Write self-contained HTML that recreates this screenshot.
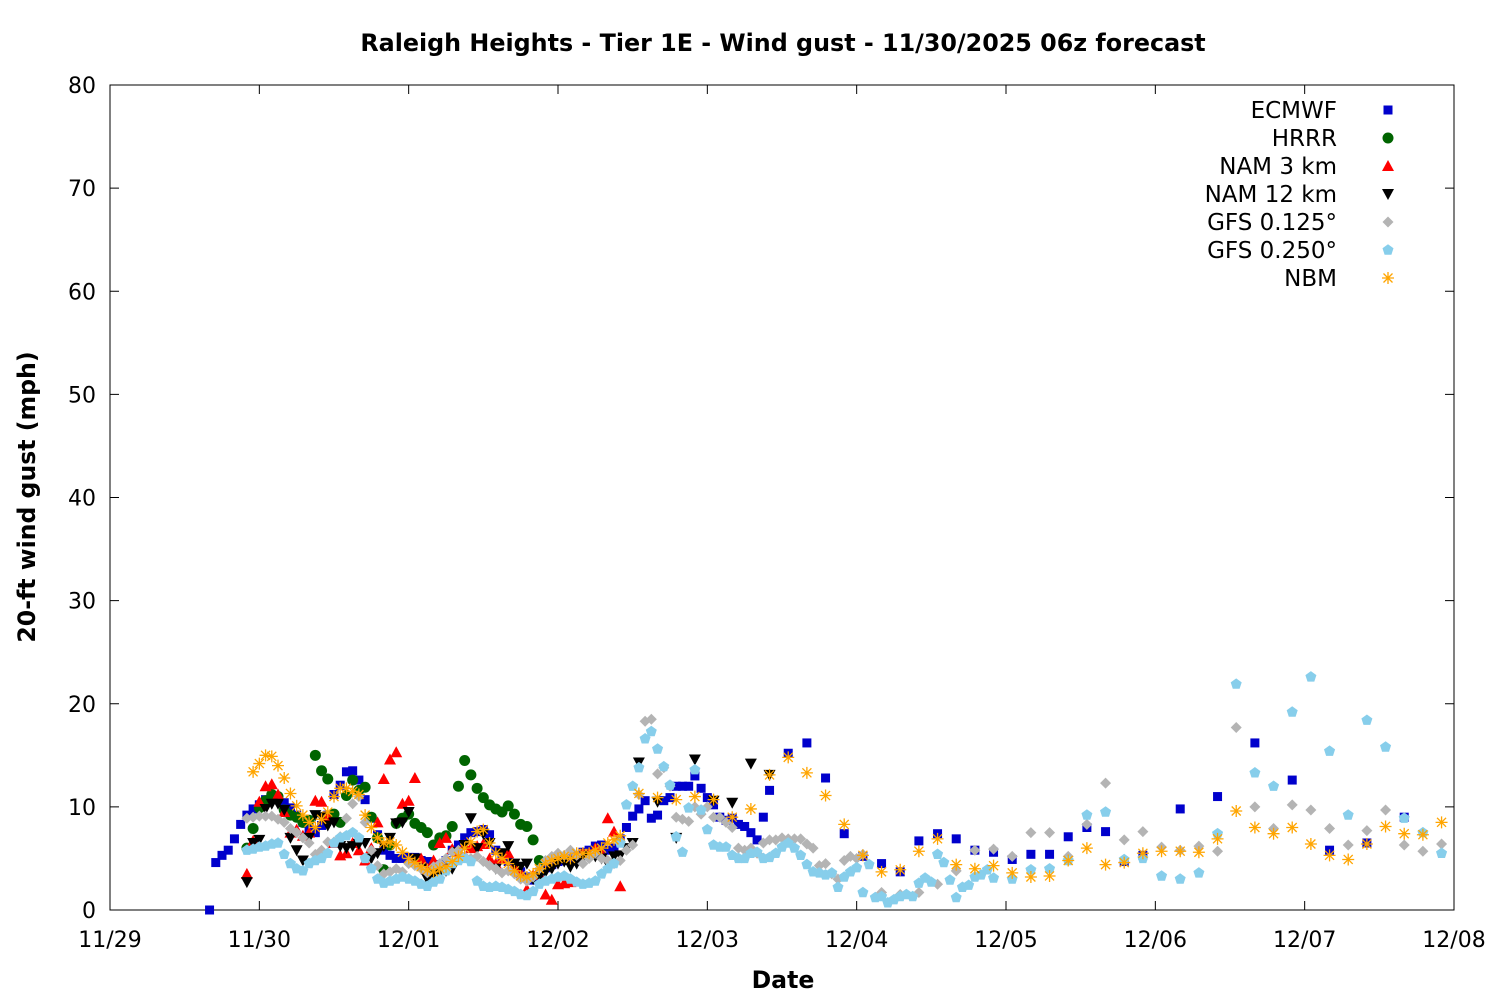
<!DOCTYPE html>
<html><head><meta charset="utf-8"><style>
html,body{margin:0;padding:0;background:#fff;}
svg{display:block;font-family:"DejaVu Sans","Liberation Sans",sans-serif;}
</style></head><body>
<svg id="chart" width="1500" height="1000" viewBox="0 0 1500 1000" xmlns="http://www.w3.org/2000/svg">
<rect width="1500" height="1000" fill="#fff"/>
<text x="783" y="51" text-anchor="middle" font-size="23.8" font-weight="bold">Raleigh Heights - Tier 1E - Wind gust - 11/30/2025 06z forecast</text>
<text transform="translate(35,497) rotate(-90)" text-anchor="middle" font-size="23.6" font-weight="bold">20-ft wind gust (mph)</text>
<text x="783" y="988" text-anchor="middle" font-size="23.6" font-weight="bold">Date</text>
<g id="axes"></g><g id="marks"></g><g id="legend"></g>
</svg>
<script>
const xTickLabels=["11/29","11/30","12/01","12/02","12/03","12/04","12/05","12/06","12/07","12/08"];
const yTickValues=[0,10,20,30,40,50,60,70,80];
const seriesNames=["ECMWF","HRRR","NAM 3 km","NAM 12 km","GFS 0.125°","GFS 0.250°","NBM"];
// values (mph); hours from 11/29 00z
const ecmwfHourly=[0,4.6,5.3,5.8,6.9,8.3,9.2,9.8,10.2,10.7,10.9,10.7,10.4,9.9,9.2,8.5,7.9,7.5,8.2,9.2,11.2,12.1,13.4,13.5,12.6,10.7,8.9,7.3,5.8,5.3,5.0,5.0,5.1,5.1,4.8,4.7,4.4,4.1,4.8,5.8,6.3,7.0,7.5,7.6,7.8,7.3,5.8,5.0,4.7,4.1,3.7,3.2,2.9,3.4,4.1,4.4,4.7,4.8,5.0,5.3,5.6,5.8,6.2,6.3,5.8,6.0,6.9,8.0,9.1,9.8,10.6,8.9,9.2,10.6,10.9,12.0,12.0,12.0,13.0,11.8,10.9,10.2,9.0,8.7,8.9,8.3,8.1,7.5,6.8,9.0,11.6];
const ecmwf3h=[15.2,16.2,12.8,7.4,5.2,4.5,3.7,6.7,7.4,6.9,5.8,5.6,4.9,5.4,5.4,7.1,8.0,7.6,4.7,5.3];
const ecmwf6h=[9.8,11.0,16.2,12.6,5.8,6.5,9.0];
const hrrr=[6.0,7.9,9.9,10.6,11.2,11.0,9.7,9.2,9.0,8.5,8.7,15.0,13.5,12.7,9.3,8.5,11.1,12.6,11.6,11.9,9.0,7.0,3.9,6.3,8.4,8.9,9.3,8.4,8.0,7.5,6.3,7.0,7.2,8.1,12.0,14.5,13.1,11.8,10.9,10.2,9.8,9.5,10.1,9.3,8.3,8.1,6.8,4.8];
const nam3=[3.5,6.7,10.5,12.0,12.2,11.2,9.5,7.5,7.8,7.2,7.5,10.6,10.5,9.0,6.5,5.3,5.5,6.5,5.8,4.8,6.0,8.5,12.7,14.6,15.3,10.3,10.6,12.8,5.0,4.0,4.8,6.5,7.0,5.9,5.6,6.3,6.0,6.2,6.4,5.0,4.5,5.0,5.5,4.3,3.6,2.0,3.4,3.5,1.5,1.0,2.5,2.6,2.7,4.8,5.5,5.5,6.0,5.5,8.9,7.6,2.3];
const nam12Hourly=[2.7,6.5,6.8,9.8,10.3,10.3,9.7,7.0,5.8,4.8,7.0,9.2,9.0,8.2,8.5,6.2,6.0,6.2,6.4,6.5,5.0,5.5,6.2,7.0,8.4,8.5,9.5,5.0,4.0,3.0,3.5,3.6,3.8,4.0,5.6,6.3,8.9,6.0,7.4,6.5,4.0,5.5,6.2,4.5,4.2,4.5,3.0,3.2,3.7,4.0,4.5,4.7,4.2,4.5,5.0,5.2,5.2,5.0,4.5,5.2,5.3,6.0,6.5];
const nam12_3h=[14.3,10.5,7.0,14.6,10.6,10.4,14.2,13.1];
const gfs125Hourly=[8.9,9.0,9.1,9.1,9.1,8.8,8.5,7.9,7.5,7.0,6.5,5.4,5.8,6.6,6.6,7.1,8.9,10.3,11.0,8.5,5.8,4.3,3.5,3.7,4.0,3.7,4.5,4.3,4.0,3.6,4.2,4.5,5.0,5.6,5.8,5.2,5.0,5.2,4.7,4.3,4.0,3.6,3.8,3.5,3.0,2.8,3.2,4.0,4.8,5.2,5.5,5.3,5.8,5.3,4.5,5.0,5.5,5.0,4.8,4.5,4.8,5.8,6.3,11.2,18.3,18.5,13.2,13.8,12.0,9.0,8.8,8.6,10.0,9.3,10.0,9.0,9.0,8.5,8.0,6.0,5.8,6.0,5.5,6.5,6.8,6.8,7.0,6.9,6.9,6.9,6.4,6.0,4.3,4.5,3.5,3.0,4.8,5.2,5.0];
const gfs125_3h=[5.4,1.7,1.5,1.7,2.5,3.8,5.8,5.9,5.2,7.5,7.5,5.2,8.3,12.3,6.8,7.6,6.1,5.8,6.2,5.7,17.7,10.0,7.9,10.2,9.7,7.9,6.3,7.7,9.7,6.3,5.7,6.4];
const gfs250Hourly=[5.8,5.9,6.1,6.2,6.4,6.5,5.4,4.5,4.0,3.8,4.5,4.8,5.0,5.5,6.5,7.0,7.2,7.5,7.0,5.0,4.0,3.0,2.6,2.8,3.0,3.2,3.0,2.8,2.5,2.3,2.7,3.0,3.8,4.5,4.8,5.0,4.7,2.8,2.3,2.2,2.3,2.2,2.0,1.8,1.5,1.4,1.8,2.5,2.8,3.0,3.2,3.3,3.0,2.7,2.5,2.6,2.8,3.5,4.0,4.5,6.5,10.2,12.0,13.8,16.6,17.3,15.6,13.9,12.1,7.1,5.6,9.9,13.6,9.7,7.8,6.3,6.1,6.1,5.3,5.0,5.0,5.5,5.6,5.0,5.1,5.5,6.1,6.5,6.0,5.3,4.4,3.7,3.6,3.4,3.6,2.2,3.2,3.7,4.1,1.7,4.4,1.2,1.3,0.7,1.0,1.3,1.5,1.3,2.6,3.1,2.7,5.4,4.6,2.9,1.2,2.2,2.4,3.2,3.4,3.9,3.1];
const gfs250_3h=[3.0,3.9,4.0,4.8,9.2,9.5,4.9,5.0,3.3,3.0,3.6,7.4,21.9,13.3,12.0,19.2,22.6,15.4,9.2,18.4,15.8,8.9,7.5,5.5];
const nbmHourly=[13.4,14.2,15.0,14.9,14.0,12.8,11.3,10.1,9.2,8.5,8.0,8.8,9.5,11.0,11.8,11.8,11.5,11.2,9.2,8.0,7.0,6.5,6.6,6.3,5.6,5.0,4.6,4.2,3.9,3.7,4.0,4.2,4.7,5.2,6.0,6.6,7.6,7.8,6.5,5.5,5.0,4.5,3.8,3.3,3.2,3.5,4.0,4.5,4.8,5.0,5.2,5.0,5.5,5.5,5.5,5.8,6.0,6.5,6.8,7.2];
const nbm3h=[11.3,10.9,10.7,11.0,10.7,9.0,9.8,13.1,14.8,13.3,11.1,8.3,5.3,3.7,3.9,5.7,6.9,4.4,4.0,4.3,3.6,3.2,3.3,4.8,6.0,4.4,4.6,5.5,5.7,5.7,5.6,6.9,9.6,8.0,7.4,8.0,6.4,5.3,4.9,6.4,8.1,7.4,7.3,8.5];

const NS="http://www.w3.org/2000/svg";
const L=110,R=1454,T=85,B=910;
const xs=h=>L+(R-L)*h/216;
const ys=v=>B-(B-T)*v/80;
function hours(start,step,n){const a=[];for(let i=0;i<n;i++)a.push(start+i*step);return a;}
function mk(tag,attrs,parent){const e=document.createElementNS(NS,tag);for(const k in attrs)e.setAttribute(k,attrs[k]);parent.appendChild(e);return e;}
const axes=document.getElementById('axes'),marks=document.getElementById('marks'),leg=document.getElementById('legend');

const frame=mk('rect',{x:L,y:T,width:R-L,height:B-T,fill:'none',stroke:'#000','stroke-width':1},axes);


yTickValues.forEach(v=>{
  const y=ys(v);
  mk('line',{x1:L,x2:L+9,y1:y,y2:y,stroke:'#000'},axes);
  mk('line',{x1:R,x2:R-9,y1:y,y2:y,stroke:'#000'},axes);
  const t=mk('text',{x:96,y:y+8,'text-anchor':'end','font-size':22},axes);
  t.textContent=v;
  
  
});
xTickLabels.forEach((lab,i)=>{
  const x=xs(i*24);
  mk('line',{x1:x,x2:x,y1:B,y2:B-9,stroke:'#000'},axes);
  mk('line',{x1:x,x2:x,y1:T,y2:T+9,stroke:'#000'},axes);
  const t=mk('text',{x:x,y:947,'text-anchor':'middle','font-size':22},axes);
  t.textContent=lab;
  
  
});

function marker(type,cx,cy,parent){
  let e;
  if(type===0){e=mk('rect',{x:cx-4.5,y:cy-4.5,width:9,height:9,fill:'#0000cc'},parent);}
  else if(type===1){e=mk('circle',{cx:cx,cy:cy,r:5.5,fill:'#006400'},parent);}
  else if(type===2){e=mk('polygon',{points:`${cx},${cy-6} ${cx-6},${cy+5} ${cx+6},${cy+5}`,fill:'#ff0000'},parent);}
  else if(type===3){e=mk('polygon',{points:`${cx},${cy+6} ${cx-6},${cy-5} ${cx+6},${cy-5}`,fill:'#000'},parent);}
  else if(type===4){e=mk('polygon',{points:`${cx},${cy-5.5} ${cx+5.5},${cy} ${cx},${cy+5.5} ${cx-5.5},${cy}`,fill:'#b4b4b4'},parent);}
  else if(type===5){const p=[];for(let k=0;k<5;k++){const a=-Math.PI/2+k*2*Math.PI/5;p.push((cx+5.8*Math.cos(a)).toFixed(1)+','+(cy+5.8*Math.sin(a)).toFixed(1));}e=mk('polygon',{points:p.join(' '),fill:'#87ceeb'},parent);}
  else {e=mk('path',{d:`M${cx-6},${cy}H${cx+6}M${cx},${cy-6}V${cy+6}M${cx-4.5},${cy-4.5}L${cx+4.5},${cy+4.5}M${cx-4.5},${cy+4.5}L${cx+4.5},${cy-4.5}`,stroke:'#ffa500','stroke-width':1.3,fill:'none'},parent);}
  return e;
}

const series=[
  {t:[...hours(16,1,ecmwfHourly.length),...hours(109,3,ecmwf3h.length),...hours(172,6,ecmwf6h.length)],v:[...ecmwfHourly,...ecmwf3h,...ecmwf6h]},
  {t:hours(22,1,hrrr.length),v:hrrr},
  {t:hours(22,1,nam3.length),v:nam3},
  {t:[...hours(22,1,nam12Hourly.length),...hours(85,3,nam12_3h.length)],v:[...nam12Hourly,...nam12_3h]},
  {t:[...hours(22,1,gfs125Hourly.length),...hours(121,3,gfs125_3h.length)],v:[...gfs125Hourly,...gfs125_3h]},
  {t:[...hours(22,1,gfs250Hourly.length),...hours(145,3,gfs250_3h.length)],v:[...gfs250Hourly,...gfs250_3h]},
  {t:[...hours(23,1,nbmHourly.length),...hours(85,3,nbm3h.length)],v:[...nbmHourly,...nbm3h]}
];
const seriesKeys=['ecmwf','hrrr','nam-3km','nam-12km','gfs-0125','gfs-0250','nbm'];
series.forEach((s,si)=>{
  const g=mk('g',{},marks);
  
  
  s.v.forEach((v,i)=>{
    const m=marker(si,xs(s.t[i]),ys(v),g);
    
    
  });
});
seriesNames.forEach((n,i)=>{
  const y=110+i*28;
  const t=mk('text',{x:1337,y:y+8,'text-anchor':'end','font-size':23},leg);
  t.textContent=n;
  
  
  const m=marker(i,1388,y,leg);
  
  
});
</script>
</body></html>
